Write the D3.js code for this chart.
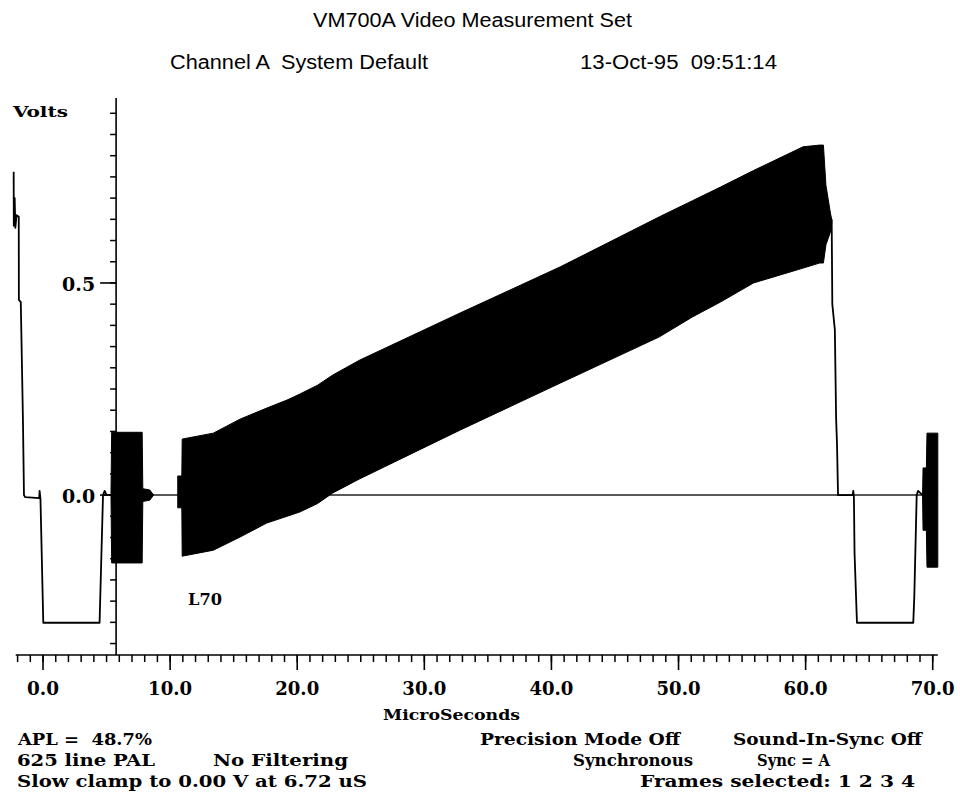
<!DOCTYPE html>
<html>
<head>
<meta charset="utf-8">
<script src="https://cdn.jsdelivr.net/npm/d3@7"></script>
<style>
  html, body { margin: 0; padding: 0; background: #fff; }
  svg { display: block; }
  text { white-space: pre; }
  .mono { font-family: "DejaVu Serif Condensed", "DejaVu Serif", serif; font-weight: bold; fill: #000; }
  .sans { font-family: "Liberation Sans", Arial, sans-serif; fill: #000; }
</style>
</head>
<body>
<svg id="chart" width="960" height="799"></svg>
<script>
// ---------- DATA (time in microseconds, level in volts) ----------
// main single-trace segments (line end of previous line, sync, porches)
const leftTraceT = [-2.31, -2.30, -2.23, -2.18, -2.08, -1.91, -1.90, -1.75, -1.58, -1.50, -1.40, -0.30, -0.27, -0.20, 0.02, 4.45, 4.72, 4.85, 5.00, 5.35];
const leftTraceV = [0.762, 0.635, 0.700, 0.630, 0.660, 0.656, 0.460, 0.455, 0.177, 0.000, -0.005, -0.007, 0.010, -0.010, -0.301, -0.301, 0.000, 0.010, 0.000, 0.000];

const rightTraceT = [62.05, 62.10, 62.30, 62.40, 62.47, 62.55, 63.70, 63.75, 63.80, 63.85, 64.04, 68.47, 68.55, 68.74, 68.85, 69.20];
const rightTraceV = [0.650, 0.450, 0.390, 0.180, 0.120, 0.000, 0.000, 0.010, -0.005, -0.137, -0.301, -0.301, -0.240, 0.000, 0.010, 0.000];

// blanking-level trace superimposed from the other selected frames
const baselineT = [4.72, 70.40];
const baselineV = [0.000, 0.000];

// colour burst (start of line) : envelope of the subcarrier
const burst1T   = [5.35, 5.40, 7.80, 7.85, 8.40, 8.70];
const burst1Top = [0.010, 0.148, 0.148, 0.015, 0.012, 0.000];
const burst1Bot = [-0.010, -0.160, -0.160, -0.015, -0.012, 0.000];

// colour burst of the next line
const burst2T   = [69.20, 69.24, 69.50, 69.55, 70.40];
const burst2Top = [0.000, 0.064, 0.064, 0.146, 0.146];
const burst2Bot = [0.000, -0.083, -0.083, -0.170, -0.170];

// modulated ramp (L70) : upper and lower envelope of the subcarrier
const rampT   = [10.60, 10.92, 10.95, 13.40, 15.50, 17.60, 19.20, 20.20, 21.60, 22.80, 24.90, 32.80, 40.70, 48.50, 51.10, 53.30, 55.90, 59.80, 61.10, 61.40, 61.60, 61.95, 62.05];
const rampTop = [0.045, 0.045, 0.132, 0.146, 0.179, 0.205, 0.224, 0.238, 0.259, 0.283, 0.318, 0.429, 0.538, 0.656, 0.694, 0.726, 0.765, 0.821, 0.825, 0.825, 0.730, 0.665, 0.650];
const rampBot = [-0.030, -0.030, -0.144, -0.130, -0.099, -0.066, -0.050, -0.040, -0.020, 0.005, 0.038, 0.153, 0.264, 0.373, 0.420, 0.455, 0.500, 0.535, 0.547, 0.547, 0.590, 0.620, 0.640];

// axes
const xTickValues = [0, 10, 20, 30, 40, 50, 60, 70];
const xTickLabels = ["0.0", "10.0", "20.0", "30.0", "40.0", "50.0", "60.0", "70.0"];
const yLabelValues = [0.0, 0.5];
const yTickLabels = ["0.0", "0.5"];

// texts
const titleText = "VM700A Video Measurement Set";
const subLeftText = "Channel A  System Default";
const subRightText = "13-Oct-95  09:51:14";
const yAxisTitle = "Volts";
const xAxisTitle = "MicroSeconds";
const lineLabel = "L70";
const footerLeft = ["APL =  48.7%", "625 line PAL", "Slow clamp to 0.00 V at 6.72 uS"];
const footerMid = ["No Filtering"];
const footerRight = ["Precision Mode Off", "Synchronous", "Frames selected: 1 2 3 4"];
const footerFar = ["Sound-In-Sync Off", "Sync = A"];

// ---------- DRAWING ----------
const svg = d3.select("#chart");
const x = d3.scaleLinear().domain([-2.15, 70.40]).range([15.7, 937.8]);
const y = d3.scaleLinear().domain([-0.377, 0.936]).range([655, 98]);

const zipPts = (T, V) => T.map((t, i) => [t, V[i]]);
const line = d3.line().x(d => x(d[0])).y(d => y(d[1]));
const area = d3.area().x(d => x(d.t)).y0(d => y(d.b)).y1(d => y(d.u));
const env = (T, U, B) => T.map((t, i) => ({ t, u: U[i], b: B[i] }));

// baseline overlay
svg.append("path").attr("d", line(zipPts(baselineT, baselineV)))
  .attr("fill", "none").attr("stroke", "#222").attr("stroke-width", 1.4);

// envelopes
[[burst1T, burst1Top, burst1Bot], [burst2T, burst2Top, burst2Bot], [rampT, rampTop, rampBot]].forEach(([T, U, B]) => {
  svg.append("path").attr("d", area(env(T, U, B)))
    .attr("fill", "#000").attr("stroke", "#000").attr("stroke-width", 1).attr("stroke-linejoin", "round");
});

// traces
[[leftTraceT, leftTraceV], [rightTraceT, rightTraceV]].forEach(([T, V]) => {
  svg.append("path").attr("d", line(zipPts(T, V)))
    .attr("fill", "none").attr("stroke", "#000").attr("stroke-width", 1.8).attr("stroke-linejoin", "round");
});

// Y axis (placed at 5.75 us)
const yAxisX = x(5.75);
const yMinor = d3.range(-7, 19).map(k => k * 0.05);
const ya = svg.append("g");
ya.append("line").attr("x1", yAxisX).attr("x2", yAxisX).attr("y1", y(0.936)).attr("y2", y(-0.377))
  .attr("stroke", "#000").attr("stroke-width", 1.6);
ya.selectAll("line.minor").data(yMinor).join("line").attr("class", "minor")
  .attr("x1", yAxisX - 6).attr("x2", yAxisX).attr("y1", d => y(d)).attr("y2", d => y(d))
  .attr("stroke", "#000").attr("stroke-width", 1.5);
ya.selectAll("line.major").data(yLabelValues).join("line").attr("class", "major")
  .attr("x1", yAxisX - 16).attr("x2", yAxisX).attr("y1", d => y(d)).attr("y2", d => y(d))
  .attr("stroke", "#000").attr("stroke-width", 1.6);
ya.selectAll("text").data(yLabelValues).join("text").attr("class", "mono")
  .attr("x", yAxisX - 21).attr("y", d => y(d) + 8).attr("text-anchor", "end")
  .attr("font-size", 19).attr("textLength", 33).attr("lengthAdjust", "spacingAndGlyphs")
  .text((d, i) => yTickLabels[i]);

// X axis
const xa = svg.append("g");
const xAxisY = y(-0.377);
xa.append("line").attr("x1", x(-2.15)).attr("x2", x(70.4)).attr("y1", xAxisY).attr("y2", xAxisY)
  .attr("stroke", "#000").attr("stroke-width", 1.6);
xa.selectAll("line.minor").data(d3.range(-2, 71)).join("line").attr("class", "minor")
  .attr("x1", d => x(d)).attr("x2", d => x(d)).attr("y1", xAxisY).attr("y2", xAxisY + 7)
  .attr("stroke", "#000").attr("stroke-width", 1.5);
xa.selectAll("line.major").data(xTickValues).join("line").attr("class", "major")
  .attr("x1", d => x(d)).attr("x2", d => x(d)).attr("y1", xAxisY).attr("y2", xAxisY + 15)
  .attr("stroke", "#000").attr("stroke-width", 1.6);
xa.selectAll("text").data(xTickValues).join("text").attr("class", "mono")
  .attr("x", d => x(d)).attr("y", 695).attr("text-anchor", "middle")
  .attr("font-size", 19).attr("textLength", (d, i) => xTickLabels[i].length === 3 ? 32 : 44)
  .attr("lengthAdjust", "spacingAndGlyphs")
  .text((d, i) => xTickLabels[i]);

// helper for fitted text
function txt(str, x0, yb, w, size, cls) {
  return svg.append("text").attr("class", cls).attr("x", x0).attr("y", yb)
    .attr("xml:space", "preserve")
    .attr("font-size", size).attr("textLength", w).attr("lengthAdjust", "spacingAndGlyphs").text(str);
}

// titles
txt(titleText, 313, 27, 319, 20, "sans");
txt(subLeftText, 170, 69, 258, 20, "sans");
txt(subRightText, 580, 69, 197, 20, "sans");

// axis titles and trace label
txt(yAxisTitle, 13, 117, 55, 15, "mono");
txt(xAxisTitle, 383, 720, 137, 15, "mono");
txt(lineLabel, 188, 605, 34, 17, "mono");

// footer
const fy = [745, 766, 787];
txt(footerLeft[0], 18, fy[0], 134, 16, "mono");
txt(footerLeft[1], 17, fy[1], 138, 16, "mono");
txt(footerLeft[2], 17, fy[2], 350, 16, "mono");
txt(footerMid[0], 213, fy[1], 135, 16, "mono");
txt(footerRight[0], 480, fy[0], 200, 16, "mono");
txt(footerRight[1], 573, fy[1], 120, 16, "mono");
txt(footerRight[2], 640, fy[2], 275, 16, "mono");
txt(footerFar[0], 733, fy[0], 189, 16, "mono");
txt(footerFar[1], 757, fy[1], 73, 16, "mono");
</script>
</body>
</html>
